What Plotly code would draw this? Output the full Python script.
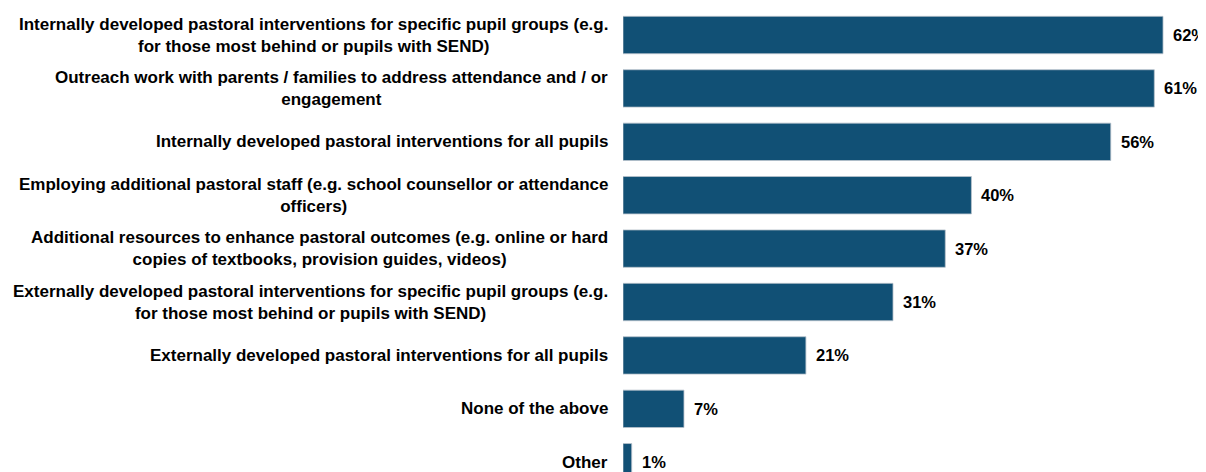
import plotly.graph_objects as go

categories = [
    "Internally developed pastoral interventions for specific pupil groups (e.g.<br>for those most behind or pupils with SEND)",
    "Outreach work with parents / families to address attendance and / or<br>engagement",
    "Internally developed pastoral interventions for all pupils",
    "Employing additional pastoral staff (e.g. school counsellor or attendance<br>officers)",
    "Additional resources to enhance pastoral outcomes (e.g. online or hard<br>copies of textbooks, provision guides, videos)",
    "Externally developed pastoral interventions for specific pupil groups (e.g.<br>for those most behind or pupils with SEND)",
    "Externally developed pastoral interventions for all pupils",
    "None of the above",
    "Other",
]
values = [62, 61, 56, 40, 37, 31, 21, 7, 1]
value_labels = ["62%", "61%", "56%", "40%", "37%", "31%", "21%", "7%", "1%"]

FONT = "Liberation Sans, Arial, sans-serif"
BAR = "#115075"

idx = list(range(len(categories)))

fig = go.Figure(go.Bar(
    x=values, y=idx, orientation="h",
    marker=dict(color=BAR, line=dict(color="#b8c2cc", width=0.8)),
    width=0.7,
    hoverinfo="skip",
))

annotations = []
for i, (c, v, t) in enumerate(zip(categories, values, value_labels)):
    annotations.append(dict(
        x=0, y=i, xref="x", yref="y", text="<b>%s</b>" % c,
        xanchor="right", yanchor="middle", align="center", showarrow=False,
        xshift=-13, font=dict(family=FONT, size=17, color="#000000"),
    ))
    annotations.append(dict(
        x=v, y=i, xref="x", yref="y", text="<b>%s</b>" % t,
        xanchor="left", yanchor="middle", showarrow=False,
        xshift=8, font=dict(family=FONT, size=16.5, color="#000000"),
    ))

fig.update_layout(
    width=1198, height=464,
    margin=dict(l=615, r=0, t=0, b=0),
    paper_bgcolor="white", plot_bgcolor="white",
    showlegend=False,
    xaxis=dict(range=[0, (1198 - 615) / 8.71], visible=False, fixedrange=True),
    yaxis=dict(range=[8.183, -0.506], visible=False, fixedrange=True),
    annotations=annotations,
)

fig.write_html("out.html")
